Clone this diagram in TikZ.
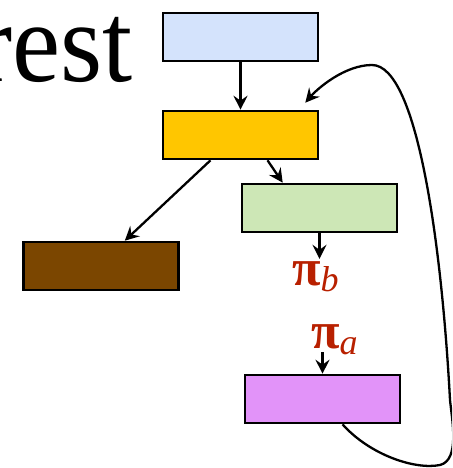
\documentclass[tikz,border=0pt]{standalone}
\usepackage{fontspec}
\setmainfont{Liberation Serif}
\newfontfamily\pisans{Liberation Sans}
\usetikzlibrary{arrows.meta,calc}
\definecolor{cblue}{HTML}{D4E3FC}
\definecolor{corange}{HTML}{FFC600}
\definecolor{cgreen}{HTML}{CDE7B6}
\definecolor{cbrown}{HTML}{7B4600}
\definecolor{cpurple}{HTML}{E293F9}
\definecolor{cred}{HTML}{B82000}
\tikzset{
  box/.style={draw=black, line width=2.6pt, minimum width=155pt, minimum height=48pt, inner sep=0pt},
  arr/.style={line width=2.3pt, -{Stealth[length=14pt,width=14pt,inset=5pt]}},
  pilabel/.style={text=cred, inner sep=0pt, text height=23pt, text depth=0pt, anchor=base west}
}
\newcommand{\pilab}[1]{{\fontsize{52}{52}\selectfont\bfseries π}\raisebox{-6pt}{\fontsize{36}{36}\selectfont\itshape #1}}
\begin{document}
\begin{tikzpicture}[x=1pt,y=-1pt]
\useasboundingbox (0,0) rectangle (452,468);
\clip (0,0) rectangle (452,468);
\node[anchor=base east, inner sep=0pt, font=\fontsize{114}{114}\selectfont] (title) at (133,82) {\scalebox{0.95}[1]{rest}};
\node[box, fill=cblue] (blue) at (240.5,37) {};
\node[box, fill=corange] (orange) at (240.5,135) {};
\node[box, fill=cgreen] (green) at (319.5,208) {};
\node[box, fill=cbrown] (brown) at (101,266) {};
\node[box, fill=cpurple] (purple) at (322.5,399) {};
\node[pilabel] (pib) at (292,285) {\pilab{b}};
\node[pilabel] (pia) at (311,348) {\pilab{a}};
\draw[arr] (blue.south) -- (orange.north);
\draw[arr] ([xshift=27pt]orange.south) -- ([xshift=42pt]green.north west);
\draw[arr] ([xshift=-30pt]orange.south) -- ([xshift=-55pt]brown.north east);
\draw[arr, shorten >=3pt] (green.south) -- (green.south |- pib.north);
\draw[arr, shorten <=4pt] (purple.north |- pia.south) -- (purple.north);
\coordinate (cs) at ([xshift=20pt]purple.south);
\coordinate (ce) at ([xshift=-14pt,yshift=7pt]orange.north east);
\draw[arr] (cs) .. controls (370,455) and (415,470) .. (440,465)
  .. controls (460,460) and (452,420) .. (450,400)
  .. controls (442,250) and (418,65) .. (372,65)
  .. controls (345,65) and (318,88) .. (ce);
\end{tikzpicture}
\end{document}
